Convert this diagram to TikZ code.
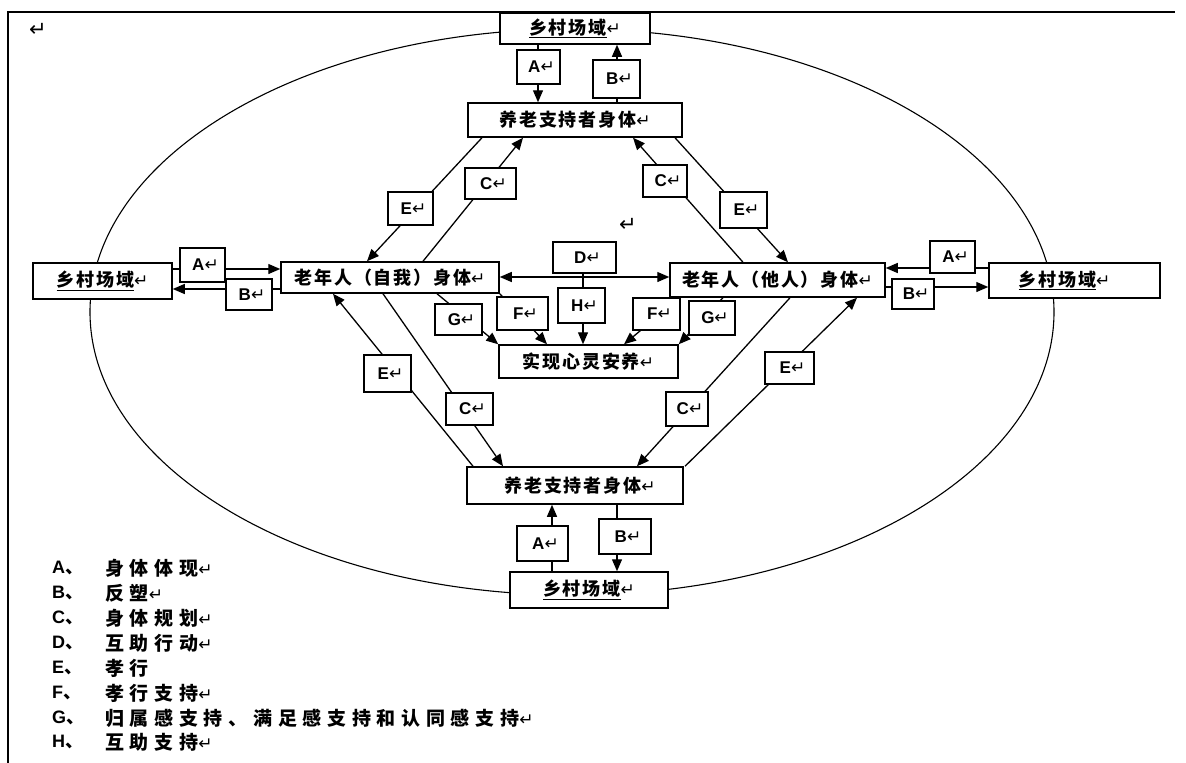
\documentclass[tikz,border=0pt]{standalone}
\usepackage{fontspec}
\setmainfont{Liberation Sans}
\newfontfamily\cjk{Noto Sans CJK SC}[LetterSpace=10]
\newfontfamily\cjkl{Noto Sans CJK SC}[LetterSpace=30]
\newfontfamily\cjkp{Noto Sans CJK SC}
\newfontfamily\dv{DejaVu Sans}
\usetikzlibrary{arrows.meta,calc}
\pgfdeclarelayer{bg}
\pgfsetlayers{bg,main}
\newcommand\ret{{\dv\fontsize{17}{17}\selectfont\mdseries ↵}}
\newcommand\lt[1]{\hspace*{6pt}{\bfseries #1}\ret}
\newcommand\dun{{\cjkp\bfseries 、}}
\tikzset{
  box/.style={draw, line width=1.5pt, fill=white, inner sep=0pt, font=\cjk\bfseries\fontsize{18}{20}\selectfont},
  lbl/.style={draw, line width=1.4pt, fill=white, inner sep=0pt, font=\fontsize{17}{18}\selectfont},
  arr/.style={line width=1.3pt, -{Triangle[length=12pt,width=10pt]}},
  darr/.style={line width=1.3pt, {Triangle[length=12pt,width=10pt]}-{Triangle[length=12pt,width=10pt]}},
  leg/.style={anchor=west, inner sep=0pt, font=\cjkl\bfseries\fontsize{19}{20}\selectfont},
  legl/.style={anchor=west, inner sep=0pt, font=\bfseries\fontsize{18}{18}\selectfont},
}
\begin{document}
\begin{tikzpicture}[x=1pt,y=-1pt]
\useasboundingbox (0,0) rectangle (1186,763);
% main boxes
\node[box, minimum width=150, minimum height=31] (topv) at (575,28.5) {\underline{乡村场域}\ret};
\node[box, minimum width=214, minimum height=34] (topy) at (575,120) {养老支持者身体\ret};
\node[box, minimum width=139, minimum height=36] (leftv) at (102.5,281) {\underline{乡村场域}\ret};
\node[box, minimum width=218, minimum height=31] (self) at (390,277.5) {老年人（自我）身体\ret};
\node[box, minimum width=215, minimum height=34] (other) at (777.5,280) {老年人（他人）身体\ret};
\node[box, minimum width=171, minimum height=35] (rightv) at (1074.5,280.5) {\hspace*{-20pt}\underline{乡村场域}\ret};
\node[box, minimum width=179, minimum height=33] (shix) at (588.5,361.5) {实现心灵安养\ret};
\node[box, minimum width=216, minimum height=37] (boty) at (575,485.5) {\hspace*{10pt}养老支持者身体\ret};
\node[box, minimum width=158, minimum height=36] (botv) at (589,590) {\underline{乡村场域}\ret};
% label boxes
\node[lbl, minimum width=43, minimum height=34] (tA) at (538.5,67) {\lt{A}};
\node[lbl, minimum width=47, minimum height=38] (tB) at (616.5,79) {\lt{B}};
\node[lbl, minimum width=45, minimum height=34] (lA) at (202.5,265) {\lt{A}};
\node[lbl, minimum width=46, minimum height=31] (lB) at (249,294.5) {\lt{B}};
\node[lbl, minimum width=45, minimum height=32] (rA) at (952.5,257) {\lt{A}};
\node[lbl, minimum width=42, minimum height=30] (rB) at (913,294) {\lt{B}};
\node[lbl, minimum width=63, minimum height=31] (D) at (584.5,257.5) {\lt{D}};
\node[lbl, minimum width=47, minimum height=35] (H) at (581.5,305.5) {\lt{H}};
\node[lbl, minimum width=47, minimum height=31] (lG) at (458.5,319.5) {\lt{G}};
\node[lbl, minimum width=51, minimum height=33] (lF) at (522.5,313.5) {\lt{F}};
\node[lbl, minimum width=47, minimum height=32] (rF) at (656.5,314) {\lt{F}};
\node[lbl, minimum width=46, minimum height=34] (rG) at (712,318) {\lt{G}};
\node[lbl, minimum width=45, minimum height=33] (ulE) at (410.5,208.5) {\lt{E}};
\node[lbl, minimum width=51, minimum height=31] (ulC) at (490.5,183.5) {\lt{C}};
\node[lbl, minimum width=44, minimum height=32] (urC) at (665,181) {\lt{C}};
\node[lbl, minimum width=47, minimum height=36] (urE) at (743.5,210) {\lt{E}};
\node[lbl, minimum width=47, minimum height=37] (llE) at (387.5,373.5) {\lt{E}};
\node[lbl, minimum width=47, minimum height=32] (llC) at (469.5,409) {\lt{C}};
\node[lbl, minimum width=42, minimum height=34] (lrC) at (687,409) {\lt{C}};
\node[lbl, minimum width=49, minimum height=32] (lrE) at (789.5,368) {\lt{E}};
\node[lbl, minimum width=51, minimum height=35] (bA) at (542.5,543.5) {\lt{A}};
\node[lbl, minimum width=52, minimum height=35] (bB) at (625,536.5) {\lt{B}};
% stray return marks
\node[inner sep=0pt] (r1) at (38,30) {\dv\fontsize{21}{21}\selectfont ↵};
\node[inner sep=0pt] (r2) at (628,225) {\dv\fontsize{21}{21}\selectfont ↵};
% legend
\node[legl] (kA) at (52,568) {A\dun};  \node[leg] (tA1) at (105,568) {身体体现\ret};
\node[legl] (kB) at (52,593) {B\dun};  \node[leg] (tB1) at (105,593) {反塑\ret};
\node[legl] (kC) at (52,618) {C\dun};  \node[leg] (tC1) at (105,618) {身体规划\ret};
\node[legl] (kD) at (52,643) {D\dun};  \node[leg] (tD1) at (105,643) {互助行动\ret};
\node[legl] (kE) at (52,668) {E\dun};  \node[leg] (tE1) at (105,668) {孝行};
\node[legl] (kF) at (52,693) {F\dun};  \node[leg] (tF1) at (105,693) {孝行支持\ret};
\node[legl] (kG) at (52,718) {G\dun};  \node[leg] (tG1) at (105,718) {归属感支持、满足感支持和认同感支持\ret};
\node[legl] (kH) at (52,742) {H\dun};  \node[leg] (tH1) at (105,742) {互助支持\ret};
\begin{pgfonlayer}{bg}
\draw[line width=1.2pt] (8,763) -- (8,12) -- (1175,12);
\draw[line width=1.1pt] (572,312) ellipse [x radius=482, y radius=283];
% top
\draw[arr] (topv.south -| 538,0) -- (topy.north -| 538,0);
\draw[arr] (topy.north -| 617,0) -- (topv.south -| 617,0);
% left
\draw[arr] (leftv.east |- 0,269) -- (self.west |- 0,269);
\draw[arr] (self.west |- 0,289) -- (leftv.east |- 0,289);
% right
\draw[arr] (rightv.west |- 0,268) -- (other.east |- 0,268);
\draw[arr] (other.east |- 0,287) -- (rightv.west |- 0,287);
% D and H
\draw[darr] (self.east |- 0,277) -- (other.west |- 0,277);
\draw[arr] (D.south -| 583,0) -- (shix.north -| 583,0);
% F, G
\draw[arr] (self.south east) -- (shix.north -| 547,0);
\draw[arr] (self.south -| 437,0) -- (shix.north west);
\draw[arr] (other.south -| 680,0) -- (shix.north -| 624,0);
\draw[arr] (other.south -| 723,0) -- (shix.north east);
% upper diagonals
\draw[arr] (topy.south -| 482,0) -- (self.north -| 367,0);
\draw[arr] (self.north -| 423,0) -- (topy.south -| 523,0);
\draw[arr] (other.north -| 743,0) -- (topy.south -| 633,0);
\draw[arr] (topy.south -| 675,0) -- (other.north -| 788,0);
% lower diagonals
\draw[arr] (boty.north -| 473,0) -- (self.south -| 333,0);
\draw[arr] (self.south -| 383,0) -- (boty.north -| 503,0);
\draw[arr] (other.south -| 790,0) -- (boty.north -| 637,0);
\draw[arr] (boty.north -| 685,0) -- (other.south -| 857,0);
% bottom
\draw[arr] (botv.north -| 552,0) -- (boty.south -| 552,0);
\draw[arr] (boty.south -| 617,0) -- (botv.north -| 617,0);
\end{pgfonlayer}
\end{tikzpicture}
\end{document}
